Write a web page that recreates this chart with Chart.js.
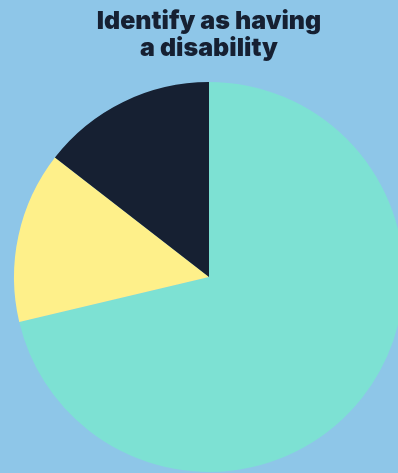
<!DOCTYPE html>
<html>
<head>
<meta charset="utf-8">
<script src="https://cdn.jsdelivr.net/npm/chart.js@4"></script>
<style>
  html, body { margin: 0; padding: 0; background: #8ec6e8; overflow: hidden; }
  #wrap { width: 418px; height: 473px; }
</style>
</head>
<body>
<div id="wrap"><canvas id="pie" width="418" height="473"></canvas></div>
<script>
'use strict';

const TITLE = ['Identify as having', 'a disability'];
const labels = ['No', 'Yes', 'Prefer not to say'];
const values = [71.3, 14.2, 14.5];
const colors = ['#7de1d3', '#fef08a', '#162032'];

const ctx = document.getElementById('pie').getContext('2d');

new Chart(ctx, {
    type: 'pie',
    data: {
        labels: labels,
        datasets: [{
            data: values,
            backgroundColor: colors,
            borderWidth: 0,
            hoverOffset: 0
        }]
    },
    options: {
        responsive: false,
        animation: false,
        layout: { padding: { left: 14, right: 14, top: 0, bottom: 1 } },
        plugins: {
            legend: { display: false },
            tooltip: { enabled: false },
            title: {
                display: true,
                text: TITLE,
                color: '#162032',
                font: { family: 'Inter', size: 25, weight: '900', lineHeight: 1.08 },
                padding: { top: 8, bottom: 20 }
            }
        }
    }
});
</script>
</body>
</html>
